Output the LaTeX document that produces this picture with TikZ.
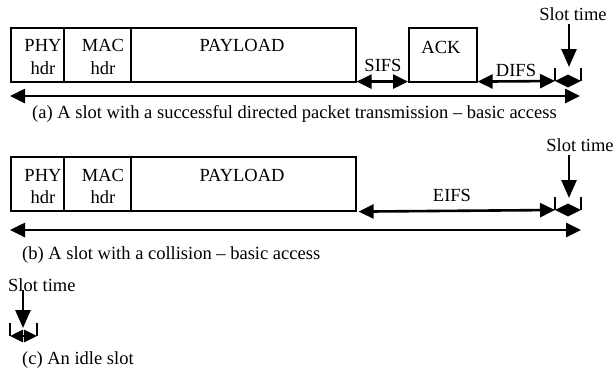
\documentclass[tikz,border=0pt]{standalone}
\usepackage{fontspec}
\setmainfont{Liberation Serif}
\usetikzlibrary{arrows.meta}
\begin{document}
\begin{tikzpicture}[x=1pt,y=-1pt,
  box/.style={draw, line width=1.6pt, minimum height=54pt, anchor=north west, inner sep=0pt},
  lbl/.style={inner sep=0pt, font=\fontsize{18.5}{20}\selectfont},
  darr/.style={line width=2.6pt, {Triangle[length=15pt,width=14pt]}-{Triangle[length=15pt,width=14pt]}},
  slarr/.style={line width=2.6pt, {Triangle[length=13pt,width=12pt]}-{Triangle[length=13pt,width=12pt]}},
  downarr/.style={line width=2.6pt, -{Triangle[length=18pt,width=15pt]}},
  tickmark/.style={line width=1.5pt}]
\useasboundingbox (0,0) rectangle (615,368);

% ---------- (a) ----------
\node[box, minimum width=53pt] (phyA) at (10,27) {};
\node[box, minimum width=67pt] (macA) at (63,27) {};
\node[box, minimum width=225pt] (payA) at (130,27) {};
\node[box, minimum width=68pt] (ackA) at (408,27) {};
\node[lbl] (phyAt) at (43,45) {PHY};
\node[lbl] (phyAh) at (43,68) {hdr};
\node[lbl] (macAt) at (103,45) {MAC};
\node[lbl] (macAh) at (103,68) {hdr};
\node[lbl] (payAt) at (242,45) {PAYLOAD};
\node[lbl] (ackAt) at (441,47) {ACK};
\node[lbl] (sifs) at (383,65) {SIFS};
\node[lbl] (difs) at (516,70) {DIFS};
\node[lbl] (slotA) at (573,14) {Slot time};
\coordinate (tA1) at (555,81);
\coordinate (tA2) at (581,81);
\coordinate (dA) at (569,67);
\coordinate (mA1) at (10,96);
\coordinate (mA2) at (580,96);
\draw[tickmark] (555,68) -- (tA1);
\draw[tickmark] (581,68) -- (tA2);
\draw[darr] ([yshift=1pt]payA.south east) -- ([yshift=1pt]ackA.south west);
\draw[darr] ([yshift=1pt]ackA.south east) -- (tA1);
\draw[slarr] (tA1) -- (tA2);
\draw[downarr] ([yshift=-3pt]slotA.south -| dA) -- (dA);
\draw[darr] (mA1) -- (mA2);
\node[lbl, anchor=west] (capA) at (32,114) {(a) A slot with a successful directed packet transmission -- basic access};

% ---------- (b) ----------
\node[box, minimum width=53pt] (phyB) at (10,156) {};
\node[box, minimum width=67pt] (macB) at (63,156) {};
\node[box, minimum width=225pt] (payB) at (130,156) {};
\node[lbl] (phyBt) at (43,175) {PHY};
\node[lbl] (phyBh) at (43,197) {hdr};
\node[lbl] (macBt) at (103,175) {MAC};
\node[lbl] (macBh) at (103,197) {hdr};
\node[lbl] (payBt) at (242,175) {PAYLOAD};
\node[lbl] (eifs) at (452,195) {EIFS};
\node[lbl] (slotB) at (580,145) {Slot time};
\coordinate (tB1) at (555,210);
\coordinate (tB2) at (581,210);
\coordinate (dB) at (569,198);
\coordinate (mB1) at (10,230);
\coordinate (mB2) at (581,230);
\draw[tickmark] (555,197) -- (tB1);
\draw[tickmark] (581,197) -- (tB2);
\draw[darr] ([xshift=2pt]payB.south east) -- (tB1);
\draw[slarr] (tB1) -- (tB2);
\draw[downarr] ([yshift=-3pt]slotB.south -| dB) -- (dB);
\draw[darr] (mB1) -- (mB2);
\node[lbl, anchor=west] (capB) at (22,255) {(b) A slot with a collision -- basic access};

% ---------- (c) ----------
\node[lbl, anchor=west] (slotC) at (8,285) {Slot time};
\coordinate (tC1) at (10,336);
\coordinate (tC2) at (37,336);
\coordinate (dC) at (23,328);
\draw[tickmark] (10,323) -- (tC1);
\draw[tickmark] (37,323) -- (tC2);
\draw[slarr] (tC1) -- (tC2);
\draw[downarr] (23,290) -- (dC);
\node[lbl, anchor=west] (capC) at (22,360) {(c) An idle slot};
\end{tikzpicture}
\end{document}
